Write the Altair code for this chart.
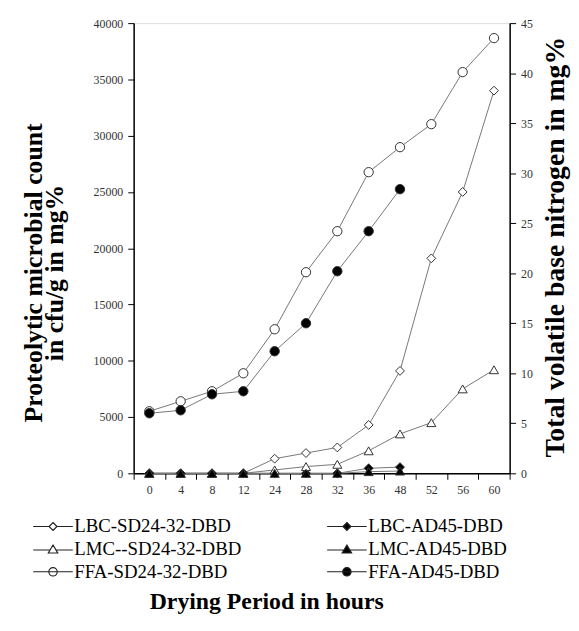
import altair as alt
import pandas as pd

hours = ["0", "4", "8", "12", "24", "28", "32", "36", "48", "52", "56", "60"]
series_names = ["LBC-SD24-32-DBD", "LBC-AD45-DBD", "LMC--SD24-32-DBD",
                "LMC-AD45-DBD", "FFA-SD24-32-DBD", "FFA-AD45-DBD"]

# left axis (cfu/g)
lbc_sd = [0, 0, 0, 0, 1300, 1800, 2300, 4300, 9100, 19100, 25000, 34000]
lbc_ad = [0, 0, 0, 0, 0, 0, 0, 450, 550]
lmc_sd = [0, 0, 0, 0, 300, 600, 800, 2000, 3500, 4500, 7500, 9200]
lmc_ad = [0, 0, 0, 0, 0, 0, 0, 150, 200]
# right axis (mg%)
ffa_sd = [6.2, 7.2, 8.2, 10.0, 14.4, 20.1, 24.2, 30.1, 32.6, 34.9, 40.1, 43.5]
ffa_ad = [6.0, 6.3, 7.9, 8.2, 12.2, 15.0, 20.2, 24.2, 28.4]

left_ticks = [0, 5000, 10000, 15000, 20000, 25000, 30000, 35000, 40000]
right_ticks = [0, 5, 10, 15, 20, 25, 30, 35, 40, 45]

rows = []
for name, vals, ax in [(series_names[0], lbc_sd, "L"), (series_names[1], lbc_ad, "L"),
                       (series_names[2], lmc_sd, "L"), (series_names[3], lmc_ad, "L"),
                       (series_names[4], ffa_sd, "R"), (series_names[5], ffa_ad, "R")]:
    for h, v in zip(hours, vals):
        rows.append({"hour": h, "series": name, "value": v, "axis": ax})
df = pd.DataFrame(rows)

SERIF = "Liberation Serif"

shape_range = ["diamond", "diamond", "triangle-up", "triangle-up", "circle", "circle"]
fill_range = ["white", "black", "white", "black", "white", "black"]
size_range = [80, 90, 80, 80, 100, 80]

x_enc = alt.X("hour:O", sort=hours,
              scale=alt.Scale(type="band", domain=hours, paddingInner=0, paddingOuter=0),
              axis=alt.Axis(title="Drying Period in hours", labelAngle=0,
                            tickBand="extent", tickSize=6, tickColor="black",
                            domainColor="black", domainWidth=1.5,
                            labelFont=SERIF, labelFontSize=12, labelColor="#333",
                            labelPadding=5,
                            titleFont=SERIF, titleFontSize=24, titleFontWeight="bold",
                            titleColor="black", titleX=134, titleY=137,
                            titleAlign="center", titleBaseline="alphabetic"))

pt_shape = alt.Shape("series:N", scale=alt.Scale(domain=series_names, range=shape_range), legend=None)
pt_fill = alt.Fill("series:N", scale=alt.Scale(domain=series_names, range=fill_range), legend=None)
pt_size = alt.Size("series:N", scale=alt.Scale(domain=series_names, range=size_range), legend=None)

y_left = alt.Y("value:Q", scale=alt.Scale(domain=[0, 40000], nice=False),
               axis=alt.Axis(orient="left", values=left_ticks, format="d", grid=False,
                             tickSize=6, tickColor="black", domainColor="black", domainWidth=1.5,
                             labelFont=SERIF, labelFontSize=12, labelColor="#333", labelPadding=5,
                             title=["Proteolytic microbial count", "in cfu/g in mg%"],
                             titleFont=SERIF, titleFontSize=26, titleFontWeight="bold",
                             titleColor="black", titleAngle=270, titleX=-93, titleY=252,
                             titleAlign="center", titleBaseline="alphabetic", titleLineHeight=21))

y_right = alt.Y("value:Q", scale=alt.Scale(domain=[0, 45], nice=False),
                axis=alt.Axis(orient="right", values=right_ticks, format="d", grid=False,
                              tickSize=6, tickColor="black", domainColor="black", domainWidth=1.5,
                              labelFont=SERIF, labelFontSize=12, labelColor="#333", labelPadding=5,
                              title="Total volatile base nitrogen in mg%",
                              titleFont=SERIF, titleFontSize=28, titleFontWeight="bold",
                              titleColor="black", titleAngle=270, titleX=54, titleY=226,
                              titleAlign="center", titleBaseline="alphabetic"))

left_base = alt.Chart(df).transform_filter(alt.datum.axis == "L")
left_layer = alt.layer(
    left_base.mark_line(stroke="#777", strokeWidth=1).encode(x=x_enc, y=y_left, detail="series:N"),
    left_base.mark_point(stroke="#333", strokeWidth=1, opacity=1).encode(
        x=x_enc, y=y_left, shape=pt_shape, fill=pt_fill, size=pt_size),
)

right_base = alt.Chart(df).transform_filter(alt.datum.axis == "R")
right_layer = alt.layer(
    right_base.mark_line(stroke="#777", strokeWidth=1).encode(x=x_enc, y=y_right, detail="series:N"),
    right_base.mark_point(stroke="#333", strokeWidth=1, opacity=1).encode(
        x=x_enc, y=y_right, shape=pt_shape, fill=pt_fill, size=pt_size),
)

# legend-only layer: symbols with line stubs (5 px per unit at symbolSize 100)
diamond_p = "M-4,0H-0.8M0.8,0H4M0,-0.8L0.8,0L0,0.8L-0.8,0Z"
triangle_p = "M-4,0.2H-0.6M0.6,0.2H4M0,-0.8L0.95,0.8L-0.95,0.8Z"
circle_p = "M-4,0H4M0.85,0A0.85,0.85,0,1,1,-0.85,0A0.85,0.85,0,1,1,0.85,0Z"
legend_shapes = [diamond_p, diamond_p, triangle_p, triangle_p, circle_p, circle_p]

leg = alt.Legend(title=None, orient="none", legendX=-91, legendY=499, columns=2,
                 direction="horizontal", symbolSize=100, symbolStrokeColor="#222",
                 symbolStrokeWidth=1.2, symbolOpacity=1, labelFont=SERIF, labelFontSize=19,
                 labelColor="black", labelLimit=300, labelOffset=12, columnPadding=84,
                 rowPadding=3)

legend_layer = alt.Chart(df).transform_filter("false").mark_point(
    stroke="#222", strokeWidth=1.2, opacity=1).encode(
    shape=alt.Shape("series:N", scale=alt.Scale(domain=series_names, range=legend_shapes), legend=leg),
    fill=alt.Fill("series:N", scale=alt.Scale(domain=series_names, range=fill_range), legend=leg),
    stroke=alt.Stroke("series:N", scale=alt.Scale(domain=series_names, range=["#222"] * 6), legend=leg),
)

chart = alt.layer(left_layer, right_layer, legend_layer).resolve_scale(
    y="independent", shape="independent", fill="independent", size="independent",
    stroke="independent"
).properties(
    width=380, height=455,
    autosize=alt.AutoSizeParams(type="none"),
    padding={"left": 127, "top": 12, "right": 62, "bottom": 148},
).configure_view(stroke="black", strokeWidth=1.5).configure(background="white")

chart.save("out.html", embed_options={"renderer": "svg", "actions": False})
